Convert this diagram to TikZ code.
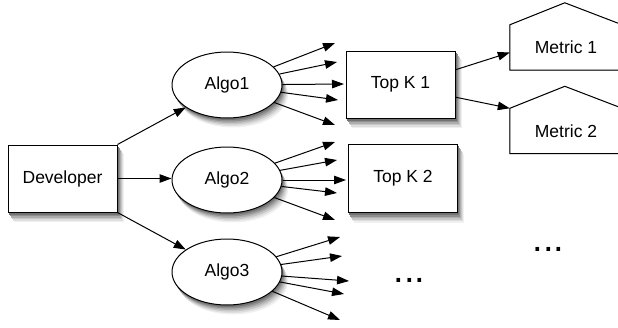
\documentclass[tikz,border=0pt]{standalone}
\usepackage{fontspec}
\setmainfont{Liberation Sans}
\usetikzlibrary{arrows.meta,shapes.geometric,calc,backgrounds}
\begin{document}
\begin{tikzpicture}[x=1pt,y=-1pt,
  font=\fontsize{17.5}{20}\selectfont,
  box/.style={draw,line width=1pt,fill=white,minimum width=109pt,minimum height=67pt,inner sep=0pt},
  algo/.style={ellipse,draw,line width=1pt,fill=white,minimum width=110pt,minimum height=66pt,inner sep=0pt},
  metric/.style={minimum width=112pt,minimum height=45pt,inner sep=0pt},
  roof/.style={draw,line width=1pt,fill=white,line join=miter},
  dots/.style={font=\fontsize{38}{40}\selectfont,inner sep=0pt,anchor=base},
  arr/.style={line width=1pt,-{Triangle[length=12pt,width=8.5pt]}}
]
\useasboundingbox (0,0) rectangle (618,327);

% nodes
\node[box] (dev) at (62.5,178.5) {Developer};
\node[algo] (a1) at (227,85) {Algo1};
\node[algo] (a2) at (227,180) {Algo2};
\node[algo] (a3) at (227,272) {Algo3};
\node[box] (t1) at (400.5,84.5) {Top K 1};
\node[box,minimum height=68pt] (t2) at (403,178.5) {Top K 2};
\node[metric] (m1) at (566,47.5) {Metric 1};
\node[metric] (m2) at (566,131) {Metric 2};
\node[dots] (d1) at (548.3,251.5) {...};
\node[dots] (d2) at (409.3,282) {...};

\begin{scope}[on background layer]
  % soft drop shadows
  \foreach \dx/\dy/\s in {6/9.5/6, 5/8/13, 4/6.5/22, 3/5/32, 2/3.5/44, 1/2/55}{
    \foreach \n in {dev,t1,t2}{
      \fill[black!\s] ([shift={(\dx,\dy)}]\n.south west) rectangle ([shift={(\dx,\dy)}]\n.north east);
    }
    \foreach \n in {a1,a2,a3}{
      \fill[black!\s] ([shift={(\dx,\dy)}]\n.center) ellipse [x radius=55, y radius=33];
    }
    \foreach \n in {m1,m2}{
      \fill[black!\s,shift={(\dx,\dy)}] (\n.south west) -- (\n.north west) -- ($(\n.north west)+(55,-22)$) -- (\n.north east) -- (\n.south east) -- cycle;
    }
  }
  \path[roof] (m1.south west) -- (m1.north west) -- ($(m1.north west)+(55,-22)$) -- (m1.north east) -- (m1.south east) -- cycle;
  \path[roof] (m2.south west) -- (m2.north west) -- ($(m2.north west)+(55,-22)$) -- (m2.north east) -- (m2.south east) -- cycle;
\end{scope}

% free ends of the fan-out arrows
\coordinate (e11) at (335,43);  \coordinate (e12) at (337,62);  \coordinate (e13) at (344,84);
\coordinate (e14) at (338,100); \coordinate (e15) at (335,125);
\coordinate (e21) at (335,142); \coordinate (e22) at (337,160); \coordinate (e23) at (346,180);
\coordinate (e24) at (337,193); \coordinate (e25) at (335,220);
\coordinate (e31) at (340,237); \coordinate (e32) at (342,256); \coordinate (e33) at (349,281);
\coordinate (e34) at (344,294); \coordinate (e35) at (340,320);

% connectors
\draw[arr] (dev.north east) -- (a1);
\draw[arr] (dev.east) -- (a2.west |- dev.east);
\draw[arr] (dev.south east) -- (a3);
\foreach \i in {1,...,5}{
  \draw[arr] (a1) -- (e1\i);
  \draw[arr] (a2) -- (e2\i);
  \draw[arr] (a3) -- (e3\i);
}
\draw[arr] (t1.15) -- ([yshift=-5pt]m1.west);
\draw[arr] (t1.-13) -- (m2.north west);
\end{tikzpicture}
\end{document}
